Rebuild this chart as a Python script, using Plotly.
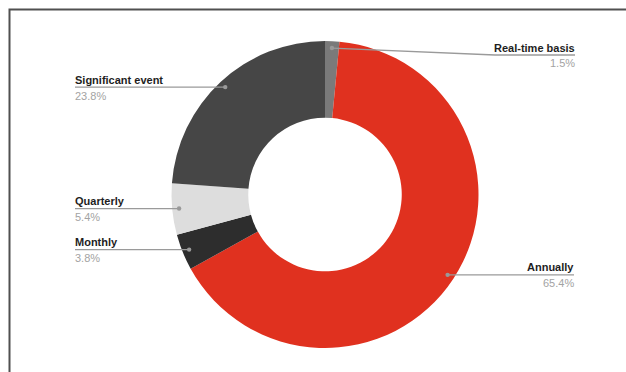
import math
import plotly.graph_objects as go

# Reporting frequency shares, clockwise from 12 o'clock
categories = ["Real-time basis", "Annually", "Monthly", "Quarterly", "Significant event"]
shares = [1.5, 65.4, 3.8, 5.4, 23.8]
value_labels = ["1.5%", "65.4%", "3.8%", "5.4%", "23.8%"]
slice_colors = ["#7a7a7a", "#e0311f", "#2d2d2d", "#dddddd", "#464646"]

W, H = 626, 372
CX, CY, R = 325, 194.5, 153.5          # donut centre / outer radius in px
DOT_R = 0.955 * R                       # leader line anchor radius

# label side and text edge (px); optional fixed leader height
label_side = {"Real-time basis": "right", "Annually": "right", "Monthly": "left",
              "Quarterly": "left", "Significant event": "left"}
text_edge = {"Real-time basis": (495, 575), "Annually": (496, 574), "Monthly": (75, 128),
             "Quarterly": (75, 124), "Significant event": (75, 163)}
leader_y_override = {"Real-time basis": 55}
TEXT_PAD = 2  # annotation inner padding, compensated so text sits on the edge


def px(x):
    return x / W


def py(y):
    return 1 - y / H


fig = go.Figure(go.Pie(
    labels=categories,
    values=shares,
    marker=dict(colors=slice_colors, line=dict(width=0)),
    hole=0.5,
    sort=False,
    direction="clockwise",
    rotation=0,
    textinfo="none",
    hoverinfo="label+percent",
    showlegend=False,
    domain=dict(x=[px(CX - R), px(CX + R)], y=[py(CY + R), py(CY - R)]),
))

shapes = []
annotations = []
total = sum(shares)
cum = 0.0
for name, val, vlab in zip(categories, shares, value_labels):
    mid = (cum + val / 2) / total * 2 * math.pi
    cum += val
    dx = CX + DOT_R * math.sin(mid)
    dy = CY - DOT_R * math.cos(mid)
    ly = leader_y_override.get(name, dy)
    x0, x1 = text_edge[name]
    side = label_side[name]

    # leader line
    if side == "left":
        pts = [(x0, ly), (dx, dy)]
    else:
        pts = [(dx, dy), (x0, ly), (x1, ly)]
    path = "M " + " L ".join(f"{px(a)},{py(b)}" for a, b in pts)
    shapes.append(dict(type="path", xref="paper", yref="paper", path=path,
                       line=dict(color="#9a9a9a", width=1.3)))
    # anchor dot
    rd = 2.2
    shapes.append(dict(type="circle", xref="paper", yref="paper",
                       x0=px(dx - rd), x1=px(dx + rd), y0=py(dy + rd), y1=py(dy - rd),
                       fillcolor="#999999", line=dict(width=0)))

    xa = x0 - TEXT_PAD if side == "left" else x1 + TEXT_PAD
    anchor = "left" if side == "left" else "right"
    annotations.append(dict(text=f"<b>{name}</b>", x=px(xa), y=py(ly - 7.5),
                            xref="paper", yref="paper", xanchor=anchor, yanchor="middle",
                            showarrow=False, font=dict(size=11, color="#1e1e1e")))
    annotations.append(dict(text=vlab, x=px(xa), y=py(ly + 8.5),
                            xref="paper", yref="paper", xanchor=anchor, yanchor="middle",
                            showarrow=False, font=dict(size=11, color="#a3a3a3")))

# outer frame
shapes.append(dict(type="rect", xref="paper", yref="paper",
                   x0=px(9.5), x1=px(W + 5), y0=py(H + 5), y1=py(9.5),
                   line=dict(color="#505050", width=2), fillcolor="rgba(0,0,0,0)"))

fig.update_layout(
    width=W, height=H,
    margin=dict(l=0, r=0, t=0, b=0),
    paper_bgcolor="white",
    plot_bgcolor="white",
    font=dict(family="Liberation Sans, Arial, sans-serif"),
    shapes=shapes,
    annotations=annotations,
)

fig.write_html("out.html")
